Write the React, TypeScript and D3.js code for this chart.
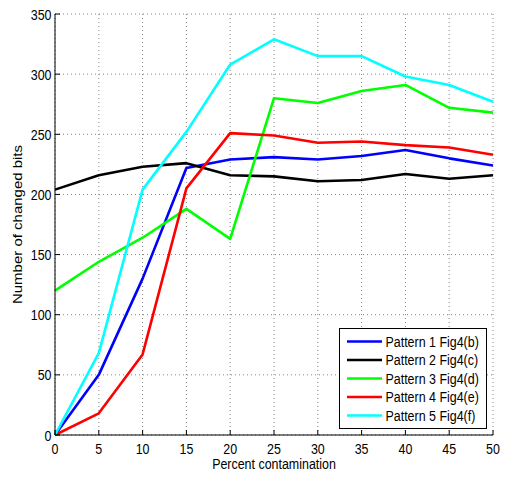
import React from "react";
import * as d3 from "d3";

const xValues = [0, 5, 10, 15, 20, 25, 30, 35, 40, 45, 50];
const pattern1 = [0, 50, 130, 222, 229, 231, 229, 232, 237, 230, 224];
const pattern2 = [204, 216, 223, 226, 216, 215, 211, 212, 217, 213, 216];
const pattern3 = [120, 144, 164, 188, 163, 280, 276, 286, 291, 272, 268];
const pattern4 = [0, 18, 67, 205, 251, 249, 243, 244, 241, 239, 233];
const pattern5 = [0, 68, 204, 252, 308, 329, 315, 315, 298, 291, 277];
const seriesNames = [
  "Pattern 1 Fig4(b)",
  "Pattern 2 Fig4(c)",
  "Pattern 3 Fig4(d)",
  "Pattern 4 Fig4(e)",
  "Pattern 5 Fig4(f)",
];
const seriesColors = ["#0000ff", "#000000", "#00ff00", "#ff0000", "#00ffff"];
const xTicks = [0, 5, 10, 15, 20, 25, 30, 35, 40, 45, 50];
const yTicks = [0, 50, 100, 150, 200, 250, 300, 350];
const xLabel = "Percent contamination";
const yLabel = "Number of changed bits";

const FONT = "'Liberation Sans', Arial, Helvetica, sans-serif";
const FS = 15;
const SX = 0.83;

function T({ x, y, anchor = "start", children }: any) {
  return (
    <text
      transform={`translate(${x},${y}) scale(${SX},1)`}
      textAnchor={anchor}
      fontFamily={FONT}
      fontSize={FS}
      fill="#000"
    >
      {children}
    </text>
  );
}

export default function App() {
  const W = 505,
    H = 478;
  const left = 55,
    right = 493,
    top = 14,
    bottom = 435;
  const x = d3.scaleLinear().domain([0, 50]).range([left, right]);
  const y = d3.scaleLinear().domain([0, 350]).range([bottom, top]);
  const series = [pattern1, pattern2, pattern3, pattern4, pattern5];
  const line = d3
    .line<number>()
    .x((_, i) => x(xValues[i]))
    .y((d) => y(d));

  const legX = 339.5,
    legY = 328.5,
    legW = 147,
    legH = 100;
  const legStep = 18.5;

  return (
    <svg
      width={W}
      height={H}
      style={{ position: "absolute", left: 0, top: 0, background: "#fff" }}
    >
      <rect x={0} y={0} width={W} height={H} fill="#fff" />
      {/* grid */}
      {xTicks.map((t) => (
        <line
          key={"gx" + t}
          x1={x(t)}
          x2={x(t)}
          y1={top}
          y2={bottom}
          stroke="#666"
          strokeWidth={0.8}
          strokeDasharray="1 3"
        />
      ))}
      {yTicks.map((t) => (
        <line
          key={"gy" + t}
          x1={left}
          x2={right}
          y1={y(t)}
          y2={y(t)}
          stroke="#666"
          strokeWidth={0.8}
          strokeDasharray="1 3"
        />
      ))}
      {/* lines */}
      {series.map((s, i) => (
        <path
          key={"s" + i}
          d={line(s) || ""}
          fill="none"
          stroke={seriesColors[i]}
          strokeWidth={2.6}
          strokeLinejoin="round"
        />
      ))}
      {/* axes */}
      <line x1={left} x2={left} y1={top} y2={bottom} stroke="#000" strokeWidth={1} />
      <line x1={left} x2={right} y1={bottom} y2={bottom} stroke="#000" strokeWidth={1} />
      {xTicks.map((t) => (
        <g key={"xt" + t}>
          <line x1={x(t)} x2={x(t)} y1={bottom} y2={bottom - 5} stroke="#000" strokeWidth={1} />
          <T x={x(t)} y={454} anchor="middle">
            {t}
          </T>
        </g>
      ))}
      {yTicks.map((t) => (
        <g key={"yt" + t}>
          <line x1={left} x2={left + 5} y1={y(t)} y2={y(t)} stroke="#000" strokeWidth={1} />
          <T x={51.5} y={y(t) + 5.5} anchor="end">
            {t}
          </T>
        </g>
      ))}
      <T x={(left + right) / 2} y={469} anchor="middle">
        {xLabel}
      </T>
      <text
        transform={`translate(22,${(top + bottom) / 2}) rotate(-90) scale(1,${SX})`}
        textAnchor="middle"
        fontFamily={FONT}
        fontSize={FS}
        fill="#000"
      >
        {yLabel}
      </text>
      {/* legend */}
      <rect x={legX} y={legY} width={legW} height={legH} fill="#fff" stroke="#000" strokeWidth={1} />
      {seriesNames.map((n, i) => {
        const cy = 341.5 + i * legStep;
        return (
          <g key={"lg" + i}>
            <line x1={347} x2={382} y1={cy} y2={cy} stroke={seriesColors[i]} strokeWidth={2.6} />
            <T x={385.5} y={cy + 5.3}>
              {n}
            </T>
          </g>
        );
      })}
    </svg>
  );
}
